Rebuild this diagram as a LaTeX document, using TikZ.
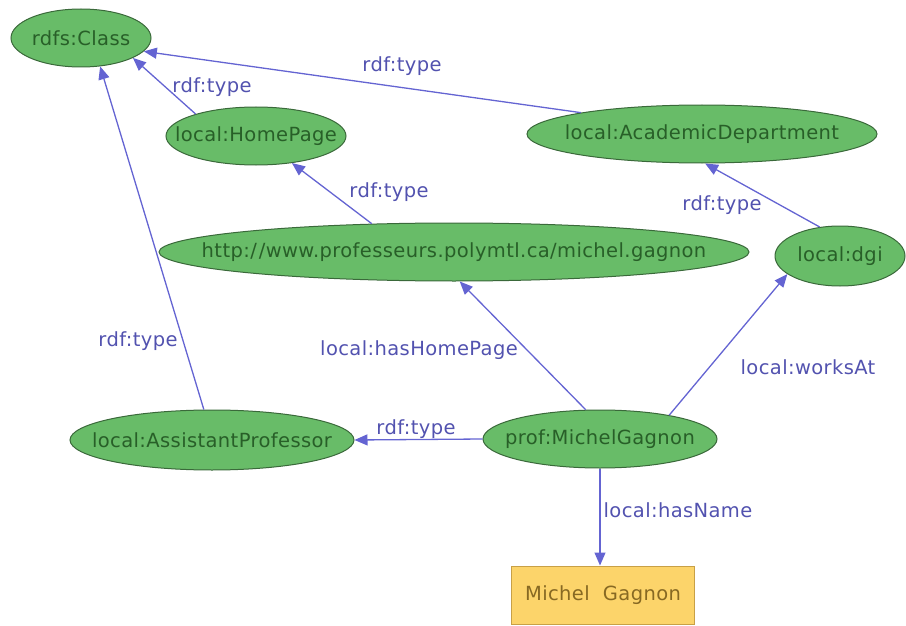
\documentclass[tikz,border=0pt]{standalone}
\usepackage{fontspec}
\setmainfont{DejaVu Sans}[LetterSpace=2]
\usetikzlibrary{shapes.geometric,arrows.meta}
\definecolor{nodefill}{RGB}{104,188,104}
\definecolor{nodeborder}{RGB}{58,105,58}
\definecolor{nodetext}{RGB}{40,95,40}
\definecolor{edgecol}{RGB}{100,100,210}
\definecolor{labelcol}{RGB}{82,82,175}
\definecolor{boxfill}{RGB}{252,212,106}
\definecolor{boxborder}{RGB}{200,160,70}
\definecolor{boxtext}{RGB}{135,105,35}
\newcommand{\zw}[1]{\makebox[0pt]{#1}}
\tikzset{
  res/.style={ellipse, draw=nodeborder, fill=nodefill, text=nodetext, inner sep=0pt, line width=1pt,
    font=\fontsize{19.5}{21}\selectfont},
  lit/.style={rectangle, draw=boxborder, fill=boxfill, text=boxtext, inner sep=0pt, line width=1pt,
    font=\fontsize{19.5}{21}\selectfont},
  rel/.style={draw=edgecol, line width=1.3pt, -{Triangle[length=13pt,width=11pt]}},
  lbl/.style={text=labelcol, font=\fontsize{19.5}{21}\selectfont, inner sep=0pt}
}
\begin{document}
\begin{tikzpicture}[x=1pt,y=-1pt]
\useasboundingbox (0,0) rectangle (906,626);
% nodes
\node[res, minimum width=140pt, minimum height=58pt] (cls) at (81,38) {\zw{rdfs:Class}};
\node[res, minimum width=180pt, minimum height=58pt] (hp) at (256,136) {\zw{local:HomePage}};
\node[res, minimum width=350pt, minimum height=58pt] (ad) at (702,134) {\zw{local:AcademicDepartment}};
\node[res, minimum width=590pt, minimum height=58pt] (url) at (454,252) {\zw{http:/\kern2pt/www.professeurs.polymtl.ca/michel.gagnon}};
\node[res, minimum width=130pt, minimum height=60pt] (dgi) at (840,256) {\zw{local:dgi}};
\node[res, minimum width=284pt, minimum height=60pt] (ap) at (212,440) {\zw{local:AssistantProfessor}};
\node[res, minimum width=234pt, minimum height=58pt] (mg) at (600,439) {\zw{prof:MichelGagnon}};
\node[lit, minimum width=183pt, minimum height=58pt] (name) at (603,595) {\zw{Michel\ \ Gagnon}};
% edges
\draw[rel] (hp.160.8) -- (cls.-21);
\draw[rel] (ad.170.8) -- (cls.-12.7);
\draw[rel] (ap.105) -- (cls.-56);
\draw[rel] (url.161) -- (hp.-37);
\draw[rel] (dgi.125.5) -- (ad.-84);
\draw[rel] (mg.116) -- (url.-79);
\draw[rel] (mg.19.3) -- (dgi.199);
\draw[rel] (mg.180) -- (ap.0);
\draw[rel] (mg.south) -- (mg.south |- name.north);
% labels
\node[lbl] (l1) at (402,66) {rdf:type};
\node[lbl] (l2) at (212,87) {rdf:type};
\node[lbl] (l3) at (389,192) {rdf:type};
\node[lbl] (l4) at (722,205) {rdf:type};
\node[lbl] (l5) at (138,341) {rdf:type};
\node[lbl] (l6) at (419,350) {local:hasHomePage};
\node[lbl] (l7) at (416,429) {rdf:type};
\node[lbl] (l8) at (808,367) {local:worksAt};
\node[lbl] (l9) at (678,510) {local:hasName};
\end{tikzpicture}
\end{document}
